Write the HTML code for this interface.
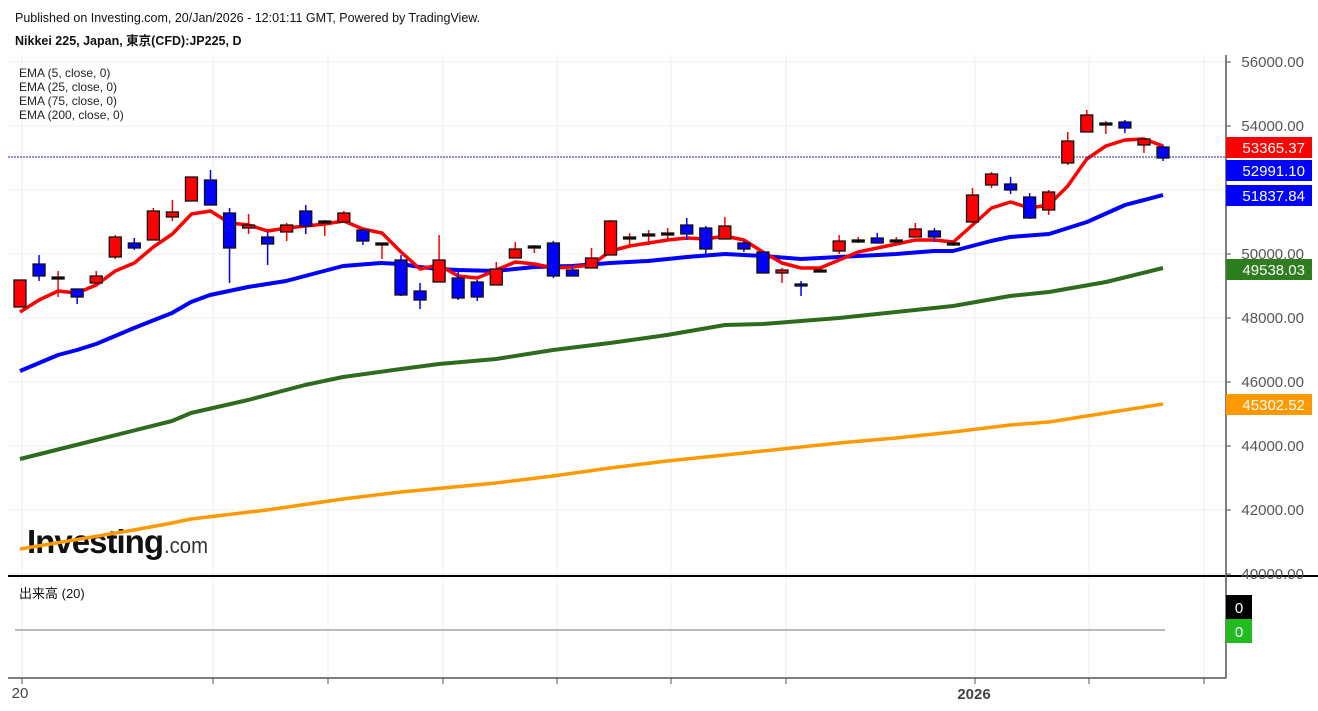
<!DOCTYPE html>
<html><head><meta charset="utf-8"><style>
html,body{margin:0;padding:0;background:#fff;width:1318px;height:711px;overflow:hidden}
svg{display:block;font-family:"Liberation Sans","Noto Sans CJK JP",sans-serif}
</style></head><body>
<svg id="s" width="1318" height="711" xmlns="http://www.w3.org/2000/svg">
<rect width="1318" height="711" fill="#fff"/>
<g id="grid" stroke="#ececec" stroke-width="1"></g>
<text x="15" y="22" font-size="12.5" fill="#111">Published on Investing.com, 20/Jan/2026 - 12:01:11 GMT, Powered by TradingView.</text>
<text x="15" y="45" font-size="12.5" font-weight="bold" fill="#111">Nikkei 225, Japan, 東京(CFD):JP225, D</text>
<g font-size="12" fill="#222">
<text x="19" y="77">EMA (5, close, 0)</text>
<text x="19" y="91">EMA (25, close, 0)</text>
<text x="19" y="105">EMA (75, close, 0)</text>
<text x="19" y="119">EMA (200, close, 0)</text>
</g>
<text x="27" y="553" font-size="33" font-weight="bold" fill="#111" letter-spacing="-1" textLength="136" lengthAdjust="spacingAndGlyphs">Investing</text>
<text x="164" y="553" font-size="22" fill="#333" textLength="44" lengthAdjust="spacingAndGlyphs">.com</text>
<g id="lines" fill="none" stroke-width="3" stroke-linejoin="round"></g>
<line x1="8" y1="157" x2="1225" y2="157" stroke="#2222aa" stroke-width="1" stroke-dasharray="2,1"/>
<g id="candles"></g>
<line x1="8" y1="576" x2="1318" y2="576" stroke="#000" stroke-width="2"/>
<line x1="1226" y1="55" x2="1226" y2="678" stroke="#555" stroke-width="1.5"/>
<line x1="8" y1="678" x2="1226" y2="678" stroke="#555" stroke-width="1.5"/>
<g id="axis" font-size="15" fill="#555"></g>
<text x="19" y="598" font-size="13" fill="#111">出来高 (20)</text>
<line x1="15" y1="630" x2="1165" y2="630" stroke="#bbb" stroke-width="2"/>
<rect x="1226" y="595" width="26" height="24" fill="#000"/><text x="1239" y="613" font-size="15" fill="#fff" text-anchor="middle">0</text>
<rect x="1226" y="619" width="26" height="24" fill="#22bb22"/><text x="1239" y="637" font-size="15" fill="#fff" text-anchor="middle">0</text>
<text x="20" y="698" font-size="15" fill="#444" text-anchor="middle">20</text>
<text x="974" y="699" font-size="15" font-weight="bold" fill="#444" text-anchor="middle">2026</text>
</svg>
<script>
var NS="http://www.w3.org/2000/svg";
function el(p,t,a,txt){var e=document.createElementNS(NS,t);for(var k in a)e.setAttribute(k,a[k]);if(txt!=null)e.textContent=txt;document.getElementById(p).appendChild(e);return e;}
var vx=[22,213,328,443,557,671,786,975,1089,1204];
vx.forEach(function(x){el("grid","line",{x1:x,y1:55,x2:x,y2:678});el("axis","line",{x1:x,y1:678,x2:x,y2:684,stroke:"#555"});});
for(var p=56000;p>=40000;p-=2000){var y=62+(56000-p)*0.032;el("grid","line",{x1:8,y1:y,x2:1226,y2:y});el("axis","line",{x1:1226,y1:y,x2:1231,y2:y,stroke:"#555"});el("axis","text",{x:1304,y:y+5,"text-anchor":"end"},(p).toFixed(2));}
[[137,"#f00","53365.37"],[160,"#00f","52991.10"],[185,"#00f","51837.84"],[259,"#2e7d1e","49538.03"],[394,"#f90","45302.52"]].forEach(function(b){el("axis","rect",{x:1226,y:b[0],width:86,height:21,fill:b[1]});el("axis","text",{x:1305,y:b[0]+16,"text-anchor":"end",fill:"#fff","font-size":"15"},b[2]);});
function pl(pts,c,w){el("lines","polyline",{points:pts.map(function(q){return q.join(",")}).join(" "),stroke:c,"stroke-width":w});}
pl([[20,549],[134,530],[172,523],[191,519],[267,510],[343,499],[401,492],[496,483],[553,476],[610,468],[667,461],[725,455],[763,451],[839,443],[896,438],[953,432],[1010,425],[1049,422],[1106,413],[1163,404]],"#ff9900",3.5);
pl([[20,459],[96,440],[172,421],[191,413],[248,400],[305,385],[343,377],[401,369],[439,364],[496,359],[553,350],[610,343],[667,335],[725,325],[763,324],[839,318],[877,314],[953,306],[1010,296],[1049,292],[1106,282],[1163,268]],"#2e6b1e",4);
pl([[20,371],[58,355],[77,350],[96,344],[134,328],[172,313],[191,302],[210,295],[248,287],[286,281],[324,271],[343,266],[381,263],[401,264],[420,267],[439,269],[458,270],[496,271],[534,267],[572,266],[610,263],[648,261],[687,257],[725,254],[763,256],[801,259],[820,258],[858,256],[896,254],[934,251],[953,251],[991,241],[1010,237],[1049,234],[1087,222],[1125,205],[1163,195]],"#0000ff",4);
var e5=[312,300,291,293,285,271,263,247,234,214,211,223,225,231,228,226,224,221,229,233,252,269,265,276,278,270,262,264,268,267,265,251,246,243,240,238,239,236,240,252,263,268,268,260,252,248,244,240,240,242,225,208,202,208,205,186,159,146,140,139,146];
var C=[["r",280,307,280,307],["b",264,276,255,281],["d",277,277,271,297],["b",289,297,289,304],["r",276,283,271,285],["r",237,257,235,259],["b",243,248,238,250],["r",211,240,208,240],["r",212,217,200,221],["r",177,201,177,201],["b",180,205,170,205],["b",213,248,208,283],["r",225,228,214,234],["b",237,244,232,265],["r",225,232,223,241],["b",211,226,205,234],["d",221,221,220,236],["r",213,222,211,222],["b",230,241,230,245],["d",243,243,243,259],["b",260,295,255,296],["b",291,300,283,309],["r",260,282,235,282],["b",278,298,270,300],["b",282,297,280,301],["r",269,285,262,285],["r",249,258,242,258],["d",246,246,245,253],["b",243,276,241,278],["b",270,276,265,276],["r",258,268,248,268],["r",221,255,220,255],["d",237,237,233,245],["d",234,234,230,245],["d",233,233,228,240],["b",225,234,218,240],["b",228,249,226,255],["r",226,239,217,239],["b",243,249,241,252],["b",252,273,252,273],["r",270,273,268,283],["b",284,286,281,296],["d",270,270,268,270],["r",241,251,235,254],["d",240,240,237,243],["b",238,243,233,243],["d",240,240,237,243],["r",229,237,223,237],["b",231,237,228,242],["d",243,243,241,246],["r",195,222,188,222],["r",174,185,172,188],["b",184,190,177,194],["b",197,218,193,219],["r",192,210,190,215],["r",141,163,132,165],["r",115,132,110,132],["d",123,123,121,134],["b",122,128,120,133],["r",139,145,139,153],["b",147,158,145,161]];
pl(e5.map(function(y,i){return [20+i*19.05,y];}),"#ff0000",3.5);
C.forEach(function(c,i){var x=20+i*19.05;var col=c[0]=="r"?"#ff0000":(c[0]=="b"?"#0000ff":"#000");
el("candles","line",{x1:x,y1:c[3],x2:x,y2:c[4],stroke:c[0]=="d"?"#f00":col,"stroke-width":1.5});
var h=Math.max(c[2]-c[1],2);el("candles","rect",{x:x-6,y:c[1],width:12,height:h,fill:col,stroke:"#111","stroke-width":1.3});});
</script>
</body></html>
